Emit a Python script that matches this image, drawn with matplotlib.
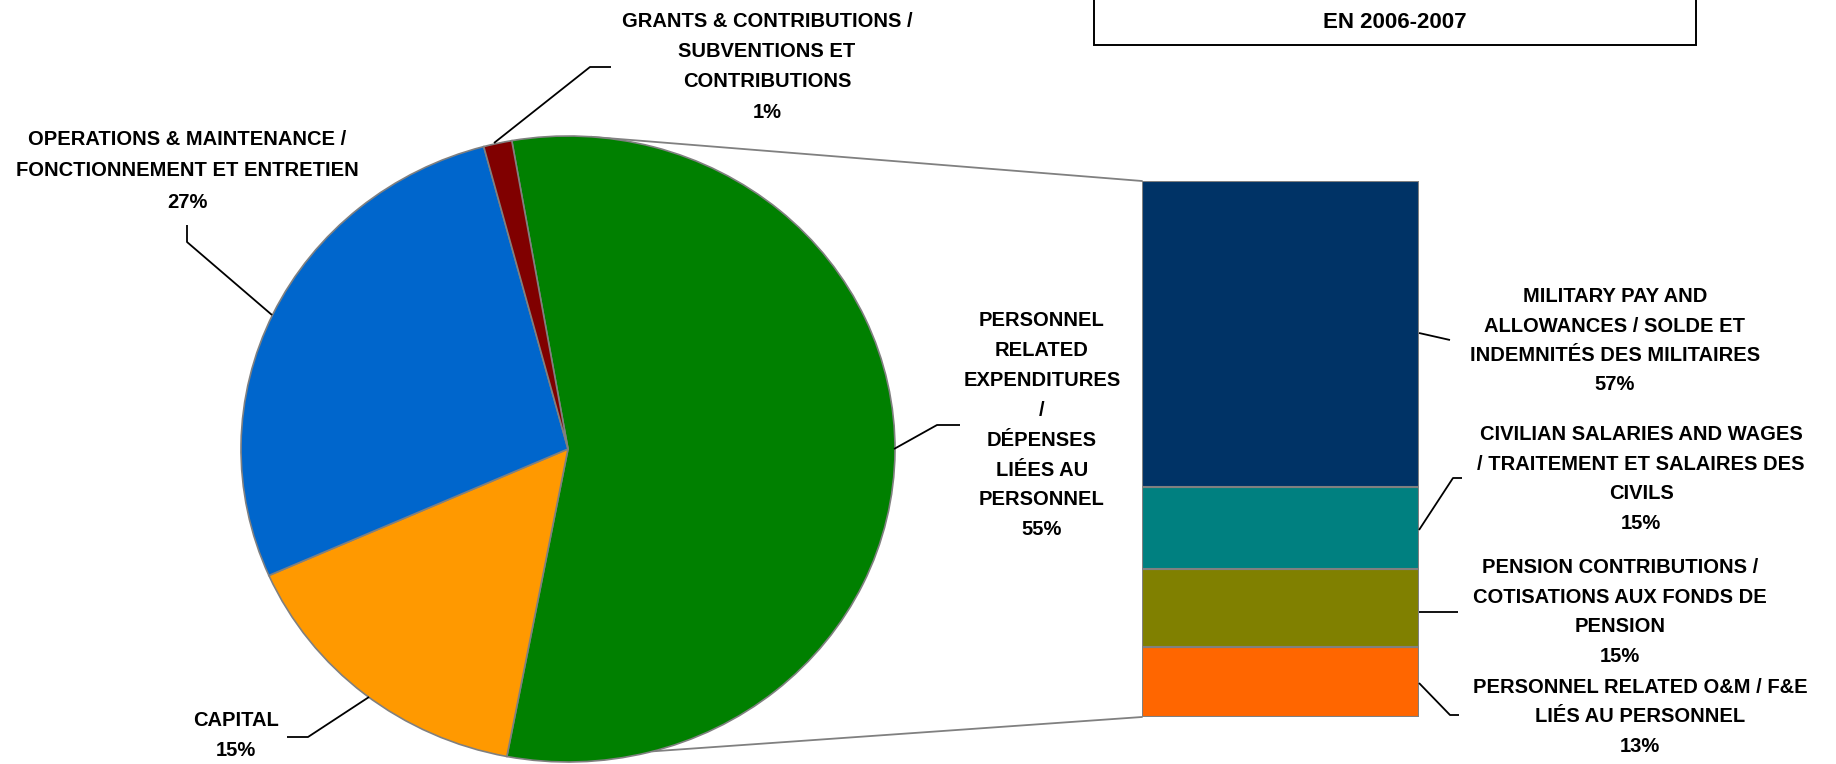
import matplotlib
matplotlib.use("Agg")
import matplotlib.pyplot as plt
from matplotlib.patches import Rectangle, ConnectionPatch
import numpy as np

plt.rcParams['font.family'] = ['Liberation Sans', 'DejaVu Sans']

# ---------------- data ----------------
pie_categories = ["PERSONNEL RELATED EXPENDITURES / DÉPENSES LIÉES AU PERSONNEL",
                  "CAPITAL",
                  "OPERATIONS & MAINTENANCE / FONCTIONNEMENT ET ENTRETIEN",
                  "GRANTS & CONTRIBUTIONS / SUBVENTIONS ET CONTRIBUTIONS"]
pie_values = [55.8, 15.4, 27.5, 1.4]
pie_labels = ["55%", "15%", "27%", "1%"]
pie_colors = ["#008000", "#FF9900", "#0066CC", "#800000"]

bar_categories = ["PERSONNEL RELATED O&M / F&E LIÉS AU PERSONNEL",
                  "PENSION CONTRIBUTIONS / COTISATIONS AUX FONDS DE PENSION",
                  "CIVILIAN SALARIES AND WAGES / TRAITEMENT ET SALAIRES DES CIVILS",
                  "MILITARY PAY AND ALLOWANCES / SOLDE ET INDEMNITÉS DES MILITAIRES"]
bar_values = [13.0, 14.6, 15.4, 57.0]
bar_labels = ["13%", "15%", "15%", "57%"]
bar_colors = ["#FF6600", "#808000", "#008080", "#003366"]

title_text = "EN 2006-2007"

# ---------------- figure ----------------
W, H = 1836, 764
fig = plt.figure(figsize=(W / 100, H / 100), dpi=100)
fig.patch.set_facecolor("white")

def frac_box(left, top, right, bottom):
    return [left / W, (H - bottom) / H, (right - left) / W, (bottom - top) / H]

# pie axes (slightly elliptical, as in the reference)
cx, cy, rx, ry = 568, 449, 327, 313
m = 1.25
ax_pie = fig.add_axes(frac_box(cx - m * rx, cy - m * ry, cx + m * rx, cy + m * ry))
ax_pie.pie(pie_values, colors=pie_colors, startangle=99.9, counterclock=False,
           wedgeprops=dict(edgecolor="#808080", linewidth=1.2))
ax_pie.set_aspect("auto")
ax_pie.set_xlim(-m, m)
ax_pie.set_ylim(-m, m)
ax_pie.axis("off")

# stacked bar axes
ax_bar = fig.add_axes(frac_box(1142, 181, 1419, 717))
bottom = 0.0
for v, c in zip(bar_values, bar_colors):
    ax_bar.bar(0, v, bottom=bottom, width=1.0, color=c, edgecolor="#808080", linewidth=1.5)
    bottom += v
total = sum(bar_values)
ax_bar.set_xlim(-0.5, 0.5)
ax_bar.set_ylim(0, total)
ax_bar.axis("off")

# connector lines pie -> bar
for ang, yb in [(86, total), (-75, 0)]:
    a = np.deg2rad(ang)
    con = ConnectionPatch(xyA=(np.cos(a), np.sin(a)), coordsA=ax_pie.transData,
                          xyB=(-0.5, yb), coordsB=ax_bar.transData,
                          color="#808080", linewidth=1.3, zorder=0)
    fig.add_artist(con)

# overlay in pixel coordinates for labels / leaders
ov = fig.add_axes([0, 0, 1, 1], facecolor="none")
ov.set_xlim(0, W)
ov.set_ylim(H, 0)
ov.axis("off")

FS = 14.5

def label(lines, x, y0, dy=30.2):
    for i, t in enumerate(lines):
        ov.text(x, y0 + i * dy + 7, t, ha="center", va="baseline",
                fontsize=FS, fontweight="bold", color="black")

def leader(pts):
    xs, ys = zip(*pts)
    ov.plot(xs, ys, color="black", linewidth=1.3, solid_capstyle="butt")

# pie labels
label(["GRANTS & CONTRIBUTIONS /", "SUBVENTIONS ET", "CONTRIBUTIONS", pie_labels[3]], 767, 20)
leader([(494, 143), (590, 67), (611, 67)])

label(["OPERATIONS & MAINTENANCE /", "FONCTIONNEMENT ET ENTRETIEN", pie_labels[2]], 187, 138, 31.5)
leader([(187, 225), (187, 242), (272, 315)])

label(["PERSONNEL", "RELATED", "EXPENDITURES", "/", "DÉPENSES", "LIÉES AU", "PERSONNEL",
       pie_labels[0]], 1042, 319, 29.9)
leader([(894, 449), (937, 425), (960, 425)])

label(["CAPITAL", pie_labels[1]], 236, 719, 30.5)
leader([(287, 737), (308, 737), (369, 697)])

# bar labels
label(["MILITARY PAY AND", "ALLOWANCES / SOLDE ET", "INDEMNITÉS DES MILITAIRES", bar_labels[3]],
      1615, 295, 29.5)
leader([(1419, 333), (1450, 340)])

label(["CIVILIAN SALARIES AND WAGES", "/ TRAITEMENT ET SALAIRES DES", "CIVILS", bar_labels[2]],
      1641, 433, 29.7)
leader([(1419, 530), (1453, 478), (1462, 478)])

label(["PENSION CONTRIBUTIONS /", "COTISATIONS AUX FONDS DE", "PENSION", bar_labels[1]],
      1620, 566, 29.7)
leader([(1419, 612), (1458, 612)])

label(["PERSONNEL RELATED O&M / F&E", "LIÉS AU PERSONNEL", bar_labels[0]], 1640, 686, 29.5)
leader([(1419, 683), (1450, 715), (1459, 715)])

# title box (cut at top of the image)
ov.add_patch(Rectangle((1094, -20), 1696 - 1094, 44.5 + 20, fill=False,
                       edgecolor="black", linewidth=1.4))
ov.text(1395, 28, title_text, ha="center", va="baseline", fontsize=16,
        fontweight="bold", color="black")

fig.savefig("out.png", dpi=100, facecolor="white")
